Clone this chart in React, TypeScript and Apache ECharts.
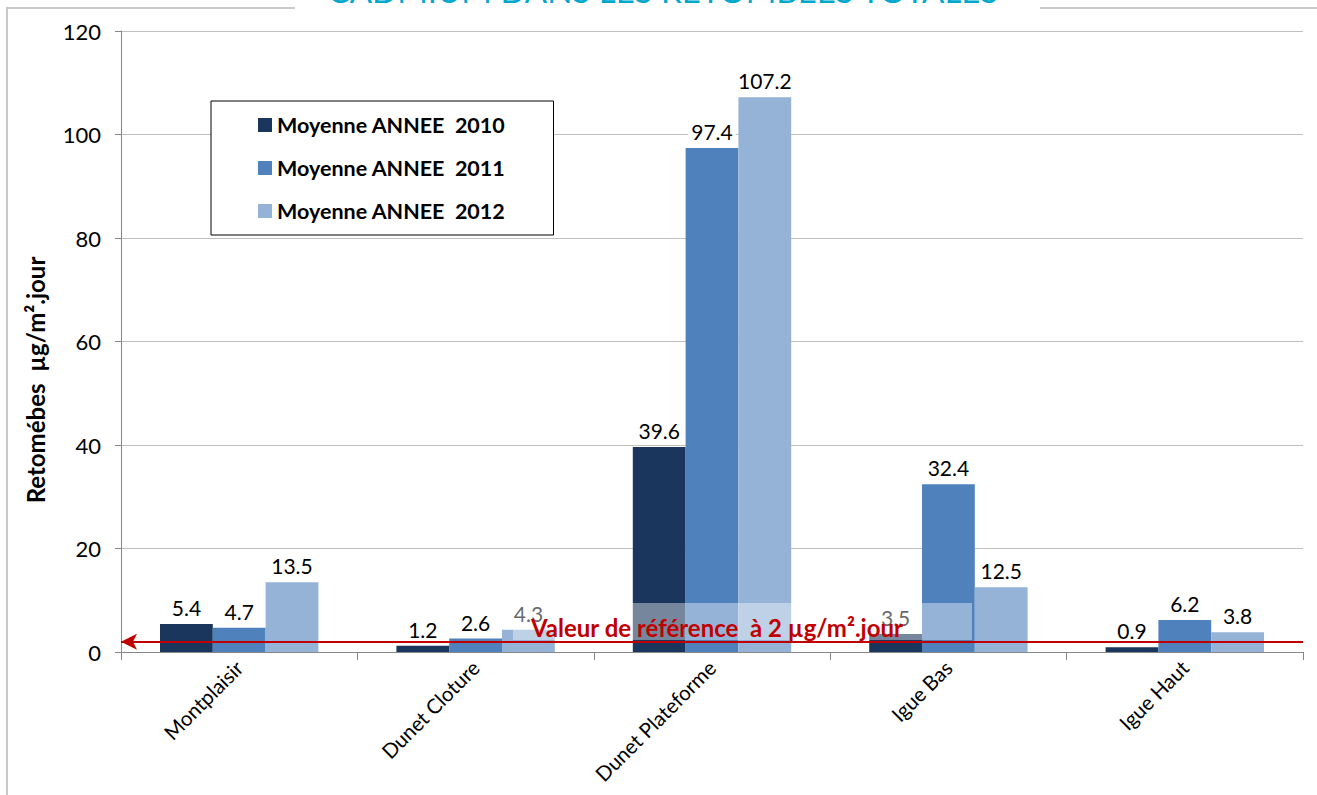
import React, { useEffect, useRef } from "react";
import * as echarts from "echarts";

const categories = ["Montplaisir", "Dunet Cloture", "Dunet Plateforme", "Igue Bas", "Igue Haut"];
const seriesNames = ["Moyenne ANNEE  2010", "Moyenne ANNEE  2011", "Moyenne ANNEE  2012"];
const values2010 = [5.4, 1.2, 39.6, 3.5, 0.9];
const values2011 = [4.7, 2.6, 97.4, 32.4, 6.2];
const values2012 = [13.5, 4.3, 107.2, 12.5, 3.8];
const seriesColors = ["#1B365D", "#4F81BD", "#95B3D7"];
const referenceValue = 2;
const referenceLabel = "Valeur de référence  à 2 µg/m².jour";
const titleText = "CADMIUM DANS LES RETOMBEES TOTALES";
const yAxisName = "Retomébes  µg/m².jour";

const FONT = "Lato, 'Open Sans', sans-serif";

export default function App() {
  const ref = useRef<HTMLDivElement>(null);
  useEffect(() => {
    if (!ref.current) return;
    const chart = echarts.init(ref.current, null, { renderer: "svg" });
    const allValues = [values2010, values2011, values2012];
    const series: any[] = allValues.map((vals, i) => ({
      name: seriesNames[i],
      type: "bar",
      data: vals,
      barGap: "0%",
      barCategoryGap: "33%",
      itemStyle: { color: seriesColors[i] },
      label: {
        show: true,
        position: "top",
        distance: 5,
        fontSize: 21,
        fontFamily: FONT,
        color: "#000",
        backgroundColor: "#fff",
        padding: [2, 3, 1, 3],
      },
      z: 2,
    }));
    series[0].markLine = {
      silent: true,
      symbol: ["arrow", "none"],
      symbolSize: [12, 16],
      label: { show: false },
      lineStyle: { color: "#C00000", width: 2, type: "solid" },
      data: [{ yAxis: referenceValue }],
      z: 5,
    };
    chart.setOption({
      animation: false,
      backgroundColor: "#fff",
      textStyle: { fontFamily: FONT },
      grid: { left: 121, right: 14, top: 31, bottom: 143, containLabel: false },
      legend: {
        orient: "vertical",
        left: 211,
        top: 101,
        padding: [13, 48, 13, 47],
        itemGap: 21,
        itemWidth: 14,
        itemHeight: 14,
        borderColor: "#000",
        borderWidth: 1,
        backgroundColor: "#fff",
        icon: "rect",
        textStyle: { fontSize: 21.5, fontWeight: "bold", color: "#000", fontFamily: FONT },
        data: seriesNames,
      },
      xAxis: {
        type: "category",
        data: categories,
        axisLine: { lineStyle: { color: "#868686", width: 1 } },
        axisTick: { show: true, length: 8, lineStyle: { color: "#868686" } },
        axisLabel: { rotate: 45, fontSize: 20.5, color: "#000", margin: 12, fontFamily: FONT },
      },
      yAxis: {
        type: "value",
        min: 0,
        max: 120,
        interval: 20,
        axisLine: { show: true, lineStyle: { color: "#868686", width: 1 } },
        axisTick: { show: true, length: 6, lineStyle: { color: "#868686" } },
        axisLabel: { fontSize: 22, color: "#000", margin: 20, fontFamily: FONT },
        splitLine: { lineStyle: { color: "#C0C0C0", width: 1 } },
      },
      series,
      graphic: [
        { type: "line", shape: { x1: 7, y1: 8, x2: 7, y2: 795 }, style: { stroke: "#C8C8C8", lineWidth: 2 } },
        { type: "line", shape: { x1: 6, y1: 8, x2: 295, y2: 8 }, style: { stroke: "#C8C8C8", lineWidth: 2 } },
        { type: "line", shape: { x1: 1040, y1: 8, x2: 1317, y2: 8 }, style: { stroke: "#C8C8C8", lineWidth: 2 } },
        {
          type: "text",
          x: 663,
          y: 6,
          style: {
            text: titleText,
            fill: "#00A8CC",
            font: `33px ${FONT}`,
            textAlign: "center",
            textVerticalAlign: "bottom",
          } as any,
        },
        {
          type: "text",
          x: 35,
          y: 380,
          rotation: Math.PI / 2,
          style: {
            text: yAxisName,
            fill: "#000",
            font: `bold 24px ${FONT}`,
            textAlign: "center",
            textVerticalAlign: "middle",
          },
        },
        {
          type: "rect",
          shape: { x: 513, y: 603, width: 459, height: 37 },
          style: { fill: "rgba(255,255,255,0.4)" },
          z: 100,
        },
        {
          type: "text",
          x: 717,
          y: 627,
          z: 101,
          style: {
            text: referenceLabel,
            fill: "#C00000",
            font: `bold 24px ${FONT}`,
            textAlign: "center",
            textVerticalAlign: "middle",
          },
        },
      ],
    });
    return () => chart.dispose();
  }, []);
  return (
    <div
      ref={ref}
      style={{ position: "fixed", left: 0, top: 0, width: 1317, height: 795 }}
    />
  );
}
